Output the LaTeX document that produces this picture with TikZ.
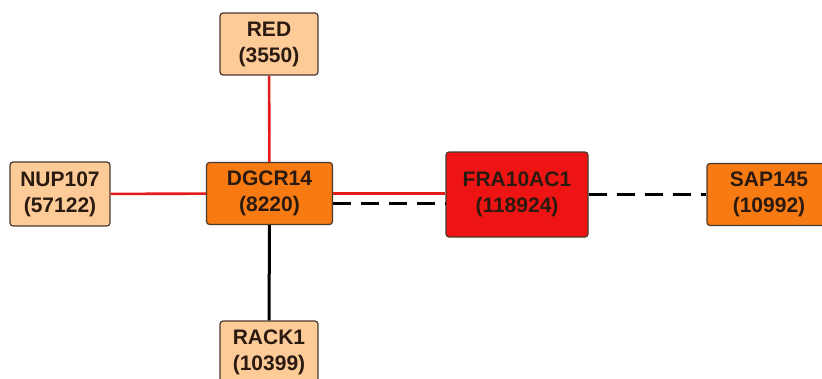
\documentclass[tikz,border=0pt]{standalone}
\usepackage{fontspec}
\setmainfont{Liberation Sans}
\definecolor{peach}{HTML}{FCCB98}
\definecolor{orng}{HTML}{F77A12}
\definecolor{rred}{HTML}{EF1414}
\definecolor{bord}{HTML}{4A3A2C}
\definecolor{txt}{HTML}{2A1A10}
\definecolor{edgered}{HTML}{E61A1A}
\begin{document}
\begin{tikzpicture}[x=1pt,y=1pt,
  gene/.style={rectangle, rounded corners=3pt, draw=bord, line width=1.2pt,
    text=txt, align=center, inner sep=0pt,
    font=\fontsize{21}{26}\selectfont\bfseries},
  small/.style={gene, fill=peach, minimum width=98pt, minimum height=62pt},
  mid/.style={gene, fill=orng, minimum width=126pt, minimum height=62pt},
  redlink/.style={draw=edgered, line width=2.6pt},
  blacklink/.style={draw=black, line width=3pt},
  dashlink/.style={draw=black, line width=3pt, dash pattern=on 18pt off 10pt}]
\useasboundingbox (0,0) rectangle (822,-378);
\node[small] (red) at (269,-44) {RED\\(3550)};
\node[small, minimum width=100pt, minimum height=64pt] (nup) at (60,-194) {NUP107\\(57122)};
\node[mid] (dgcr) at (269.5,-193.5) {DGCR14\\(8220)};
\node[gene, fill=rred, minimum width=142pt, minimum height=85pt] (fra) at (517,-194.5) {FRA10AC1\\(118924)};
\node[mid, minimum width=124pt] (sap) at (769,-194.5) {SAP145\\(10992)};
\node[small] (rack) at (269,-352) {RACK1\\(10399)};
\coordinate (dga) at ([yshift=-10pt]dgcr.east);
\draw[redlink] (red) -- (dgcr);
\draw[redlink] (nup) -- (dgcr);
\draw[blacklink] (dgcr) -- (rack);
\draw[redlink] (dgcr.east) -- (fra.west |- dgcr.east);
\draw[dashlink] (dga) -- (fra.west |- dga);
\draw[dashlink] (fra.east |- sap.west) -- (sap.west);
\end{tikzpicture}
\end{document}
